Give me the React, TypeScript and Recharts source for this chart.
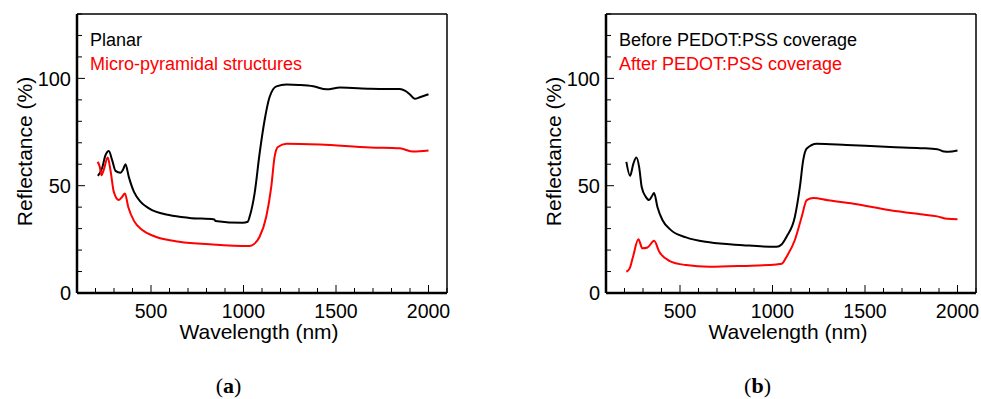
import React from 'react';
import { LineChart, Line, XAxis, YAxis, Legend } from 'recharts';

// wavelength (nm) / reflectance (%)
const planarWl = [213, 235, 254, 272, 290, 308, 335, 349, 362, 380, 408, 444, 489, 598, 707, 842, 848, 996, 1023, 1033, 1060, 1087, 1114, 1141, 1178, 1232, 1300, 1377, 1449, 1522, 1685, 1845, 1872, 1900, 1926, 1953, 2000];
const planarR = [54.6, 58, 64.2, 66.2, 61.9, 56.9, 56, 57.5, 60, 54.1, 47.1, 42.5, 39.4, 36.3, 35, 34.3, 33.6, 32.7, 33.2, 35.5, 46.4, 65, 80.5, 91.3, 96.3, 97.1, 96.9, 96.3, 94.9, 95.7, 95.2, 95, 94.3, 92.5, 90.5, 91.2, 92.6];

const pyramidWl = [212, 223, 232, 245, 266, 281, 299, 326, 344, 359, 377, 408, 453, 525, 652, 833, 1033, 1060, 1087, 1123, 1150, 1168, 1186, 1232, 1413, 1685, 1845, 1917, 2000];
const pyramidR = [61.1, 58.8, 54.9, 57.5, 63.1, 57.2, 47.1, 43.3, 44.8, 46.4, 40.1, 33.6, 29.3, 26.2, 23.9, 22.6, 21.9, 23, 26.2, 35.5, 49.4, 63.4, 68, 69.6, 69.2, 67.8, 67.4, 65.9, 66.4];

const beforeWl = [210, 230, 248, 264, 279, 293, 315, 333, 348, 360, 378, 405, 451, 533, 659, 840, 1022, 1049, 1076, 1121, 1148, 1166, 1185, 1239, 1400, 1637, 1800, 1891, 1928, 1950, 2000];
const beforeR = [61.1, 54.6, 60.3, 63.1, 58.8, 49.4, 44.8, 43.3, 45.1, 46.6, 40.1, 34, 29.3, 25.9, 23.6, 22.3, 21.5, 22.6, 26.2, 35.5, 49.4, 61.9, 67.3, 69.6, 69, 68, 67.5, 67, 65.9, 65.8, 66.4];

const afterWl = [210, 228, 246, 275, 297, 324, 360, 388, 442, 533, 659, 840, 1022, 1050, 1076, 1121, 1158, 1185, 1221, 1300, 1438, 1637, 1801, 1891, 1946, 2000];
const afterR = [9.9, 11.5, 16.9, 25, 20.8, 21.2, 24.3, 19.2, 15, 13, 12.2, 12.6, 13.3, 13.6, 16.9, 24.7, 35.5, 43.3, 44.3, 43.2, 41.6, 38.6, 36.7, 35.7, 34.6, 34.4];

const xTicks = [100, 200, 300, 400, 500, 600, 700, 800, 900, 1000, 1100, 1200, 1300, 1400, 1500, 1600, 1700, 1800, 1900, 2000, 2100];
const xMajor = [500, 1000, 1500, 2000];
const yTicks = [0, 10, 20, 30, 40, 50, 60, 70, 80, 90, 100, 110, 120, 130];
const yMajor = [0, 50, 100];

const FONT = 'Arial, "Liberation Sans", Helvetica, sans-serif';

const zip = (wl: number[], r: number[]) => wl.map((w, i) => ({ wl: w, r: r[i] }));

type Side = 'bottom' | 'top' | 'left' | 'right';

// draws inward tick marks (longer at majors) and labels on bottom/left
function makeTick(side: Side, majors: number[]) {
  return (props: any) => {
    const { x, y, payload } = props;
    const v = payload.value;
    const major = majors.includes(v);
    const len = major ? 8 : 5;
    if (side === 'bottom') {
      const ay = y - 10;
      return (
        <g>
          <line x1={x} x2={x} y1={ay} y2={ay - len} stroke="#000" strokeWidth={1} />
          {major && (
            <text x={x} y={y} dy="0.78em" textAnchor="middle" fontSize={19.5} fontFamily={FONT} fill="#000">{v}</text>
          )}
        </g>
      );
    }
    if (side === 'top') {
      return <line x1={x} x2={x} y1={y} y2={y + len} stroke="#000" strokeWidth={1} />;
    }
    if (side === 'left') {
      const ax = x + 6;
      return (
        <g>
          <line x1={ax} x2={ax + len} y1={y} y2={y} stroke="#000" strokeWidth={1} />
          {major && (
            <text x={x} y={y} dy="0.36em" textAnchor="end" fontSize={20} fontFamily={FONT} fill="#000">{v}</text>
          )}
        </g>
      );
    }
    return <line x1={x} x2={x - len} y1={y} y2={y} stroke="#000" strokeWidth={1} />;
  };
}

interface Series {
  name: string;
  color: string;
  wl: number[];
  r: number[];
}

function Panel({ series, left, caption }: { series: Series[]; left: number; caption: string }) {
  const order = series.map((s) => s.name);
  return (
    <div style={{ position: 'absolute', left, top: 0 }}>
      <LineChart width={452} height={399} margin={{ top: 13, right: 4, bottom: 56, left: 0 }}>
        <XAxis
          xAxisId="b"
          dataKey="wl"
          type="number"
          domain={[100, 2100]}
          ticks={xTicks}
          interval={0}
          height={50}
          tickSize={0}
          tickMargin={10}
          tickLine={false}
          tick={makeTick('bottom', xMajor)}
          axisLine={{ stroke: '#000', strokeWidth: 2.5 }}
          label={{
            content: (p: any) => {
              const vb = p.viewBox;
              return (
                <text x={vb.x + vb.width / 2 - 3} y={vb.y + 46} textAnchor="middle" fontSize={21} fontFamily={FONT} fill="#000">
                  Wavelength (nm)
                </text>
              );
            },
          }}
        />
        <XAxis
          xAxisId="t"
          orientation="top"
          dataKey="wl"
          type="number"
          domain={[100, 2100]}
          ticks={xTicks}
          interval={0}
          height={1}
          tickSize={0}
          tickMargin={0}
          tickLine={false}
          tick={makeTick('top', xMajor)}
          axisLine={{ stroke: '#000', strokeWidth: 1.5 }}
        />
        <YAxis
          yAxisId="l"
          type="number"
          domain={[0, 130]}
          ticks={yTicks}
          interval={0}
          width={77}
          tickSize={0}
          tickMargin={6}
          tickLine={false}
          tick={makeTick('left', yMajor)}
          axisLine={{ stroke: '#000', strokeWidth: 2.5 }}
          label={{
            content: (p: any) => {
              const vb = p.viewBox;
              const cx = vb.x + 24;
              const cy = vb.y + vb.height / 2 - 2;
              return (
                <text x={cx} y={cy} dy="0.36em" transform={`rotate(-90 ${cx} ${cy})`} textAnchor="middle" fontSize={21} fontFamily={FONT} fill="#000">
                  Reflectance (%)
                </text>
              );
            },
          }}
        />
        <YAxis
          yAxisId="r"
          orientation="right"
          type="number"
          domain={[0, 130]}
          ticks={yTicks}
          interval={0}
          width={1}
          tickSize={0}
          tickMargin={0}
          tickLine={false}
          tick={makeTick('right', yMajor)}
          axisLine={{ stroke: '#000', strokeWidth: 1.5 }}
        />
        <Legend
          layout="horizontal"
          verticalAlign="middle"
          wrapperStyle={{ left: 90, top: 28, width: 'auto', height: 'auto' }}
          content={(p: any) => {
            const items = [...(p.payload || [])].sort((a: any, b: any) => order.indexOf(a.value) - order.indexOf(b.value));
            return (
              <div style={{ fontFamily: FONT, fontSize: 18, lineHeight: '24px' }}>
                {items.map((it: any) => (
                  <div key={it.value} style={{ color: it.color, whiteSpace: 'nowrap' }}>{it.value}</div>
                ))}
              </div>
            );
          }}
        />
        {series.map((s) => (
          <Line
            key={s.name}
            xAxisId="b"
            yAxisId="l"
            data={zip(s.wl, s.r)}
            dataKey="r"
            name={s.name}
            type="monotone"
            stroke={s.color}
            strokeWidth={2}
            dot={false}
            activeDot={false}
            isAnimationActive={false}
          />
        ))}
      </LineChart>
      <div
        style={{
          position: 'absolute',
          left: 0,
          width: 457,
          top: 373,
          textAlign: 'center',
          fontFamily: '"Liberation Serif", "DejaVu Serif", serif',
          fontSize: 22,
          lineHeight: '26px',
          color: '#000',
        }}
      >
        (<b>{caption}</b>)
      </div>
    </div>
  );
}

export default function App() {
  const panelA: Series[] = [
    { name: 'Planar', color: '#000000', wl: planarWl, r: planarR },
    { name: 'Micro-pyramidal structures', color: '#ff0000', wl: pyramidWl, r: pyramidR },
  ];
  const panelB: Series[] = [
    { name: 'Before PEDOT:PSS coverage', color: '#000000', wl: beforeWl, r: beforeR },
    { name: 'After PEDOT:PSS coverage', color: '#ff0000', wl: afterWl, r: afterR },
  ];
  return (
    <div style={{ position: 'absolute', left: 0, top: 0, width: 981, height: 399, overflow: 'hidden', background: '#fff' }}>
      <Panel series={panelA} left={0} caption="a" />
      <Panel series={panelB} left={529} caption="b" />
    </div>
  );
}
